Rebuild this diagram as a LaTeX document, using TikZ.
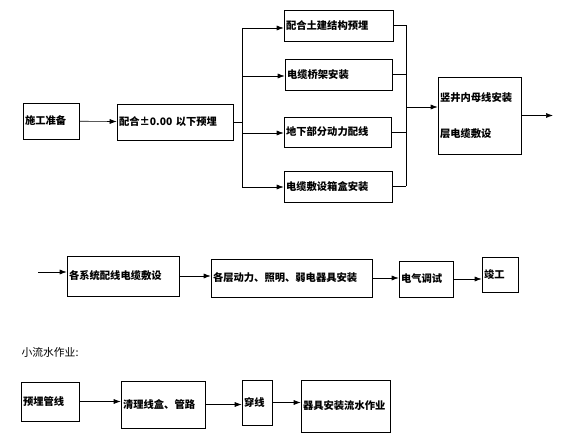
\documentclass[tikz,border=0pt]{standalone}
\usepackage{fontspec}
\newfontfamily\cjk{Noto Sans CJK SC}
\usepackage{tikz}
\usetikzlibrary{arrows.meta, positioning, calc}
\tikzstyle{box} = [rectangle, draw=black, semithick, inner xsep=2pt, inner ysep=0pt, align=left, font=\cjk\bfseries\fontsize{10.3pt}{12pt}\selectfont]
\tikzstyle{arrow} = [semithick,-{Latex[length=7pt,width=5pt]}]
\tikzstyle{line} = [semithick]

\begin{document}
\begin{tikzpicture}[x=1pt, y=-1pt]
\useasboundingbox (0,0) rectangle (577,443);

% Main line
\node[box, text width=52pt, minimum height=36pt] (prep) at (51,121) {施工准备};
\node[box, text width=112pt, minimum height=36pt] (below) at (175,122) {配合±0.00 以下预埋};

% Parallel works
\node[box, text width=105pt, minimum height=31pt] (civil) at (338.5,25.5) {配合土建结构预埋};
\node[box, text width=103pt, minimum height=31pt] (tray) at (338.5,74.5) {电缆桥架安装};
\node[box, text width=103pt, minimum height=30pt] (power) at (337.5,132) {地下部分动力配线};
\node[box, text width=104pt, minimum height=31pt] (cable) at (338,186.5) {电缆敷设箱盒安装};

% Shaft
\node[box, text width=79pt, minimum height=77pt] (shaft) at (479.5,115.5) {竖井内母线安装\\[24pt]层电缆敷设};

% Second row
\node[box, text width=108pt, minimum height=40pt] (sys) at (123,276) {各系统配线电缆敷设};
\node[box, text width=157pt, minimum height=38pt] (floor) at (291.5,278) {各层动力、照明、弱电器具安装};
\node[box, text width=50pt, minimum height=36pt] (test) at (426,279) {电气调试};
\node[box, text width=32pt, minimum height=35pt] (done) at (500,274.5) {竣工};

% Small flow
\node[anchor=west, font=\cjk\fontsize{10.8pt}{12pt}\selectfont] (title) at (18,352) {小流水作业:};
\node[box, text width=54pt, minimum height=39pt] (pipe) at (50,401.5) {预埋管线};
\node[box, text width=80pt, minimum height=47pt] (clean) at (163,404.5) {清理线盒、管路};
\node[box, text width=26pt, minimum height=45pt] (wire) at (257,402.5) {穿线};
\node[box, text width=85pt, minimum height=52pt] (fix) at (345.5,406) {器具安装流水作业};

% Branch points
\coordinate (sA) at (242,28);
\coordinate (sB) at (242,76);
\coordinate (sC) at (242,133);
\coordinate (sD) at (242,187);
\coordinate (mA) at (406,25.5);
\coordinate (mD) at (406,186.5);
\coordinate (mE) at (406,107);
\coordinate (out) at (553,115.5);
\coordinate (in) at (38,272);

% Arrows
\draw[arrow] (prep) -- (below);
\draw[line] (below.east) -- (below.east -| sA);
\draw[line] (sA) -- (sD);
\draw[arrow] (sA) -- (sA -| civil.west);
\draw[arrow] (sB) -- (sB -| tray.west);
\draw[arrow] (sC) -- (sC -| power.west);
\draw[arrow] (sD) -- (sD -| cable.west);
\draw[line] (civil.east) -- (mA);
\draw[line] (tray.east) -- (tray.east -| mA);
\draw[line] (power.east) -- (power.east -| mA);
\draw[line] (cable.east) -- (mD);
\draw[line] (mA) -- (mD);
\draw[arrow] (mE) -- (mE -| shaft.west);
\draw[arrow] (shaft.east) -- (out);

\draw[arrow] (in) -- (in -| sys.west);
\draw[arrow] (sys.east) -- (sys.east -| floor.west);
\draw[arrow] (floor.east) -- (floor.east -| test.west);
\draw[arrow] (test.east) -- (test.east -| done.west);

\draw[arrow] (pipe.east) -- (pipe.east -| clean.west);
\draw[arrow] (clean.east) -- (clean.east -| wire.west);
\draw[arrow] (wire.east) -- (wire.east -| fix.west);
\end{tikzpicture}
\end{document}
